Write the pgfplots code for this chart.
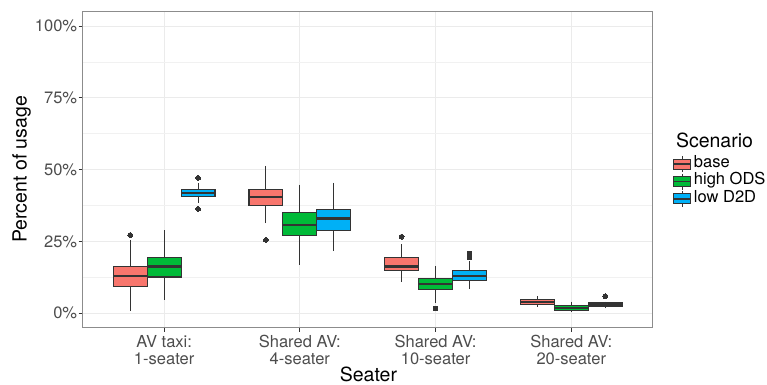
\documentclass[border=0pt]{standalone}
\usepackage{pgfplots}
\pgfplotsset{compat=1.18}
\usepgfplotslibrary{statistics}
\usepackage{fontspec}
\setmainfont{TeX Gyre Heros}
\definecolor{cbase}{HTML}{F8766D}
\definecolor{chigh}{HTML}{00BA38}
\definecolor{clow}{HTML}{00B0F6}
\definecolor{gline}{HTML}{333333}
\definecolor{gtick}{HTML}{4D4D4D}
\definecolor{gborder}{HTML}{8C8C8C}
\definecolor{ggrid}{HTML}{EBEBEB}
\pgfplotsset{
  mybox/.style={forget plot, draw=gline, line width=1.1bp,
    mark=*, mark size=2.4bp,
    mark options={draw=gline, fill=gline, line width=0pt, solid},
    boxplot/draw direction=y,
    boxplot/every median/.style={line width=2.4bp}},
}
\newcommand{\tickfont}{\fontsize{16.5bp}{17bp}\selectfont}
\newcommand{\titlefont}{\fontsize{19.5bp}{20bp}\selectfont}
\begin{document}
\begin{tikzpicture}
\useasboundingbox (0,0) rectangle (767bp,385bp);
\begin{axis}[
  at={(82.7bp,57.5bp)}, anchor=south west,
  width=570bp, height=315.8bp, scale only axis,
  xmin=0.4, xmax=4.6, ymin=-5, ymax=105,
  xtick={1,2,3,4},
  xticklabels={{AV taxi:\\1-seater},{Shared AV:\\4-seater},{Shared AV:\\10-seater},{Shared AV:\\20-seater}},
  ytick={0,25,50,75,100},
  yticklabels={0\%,25\%,50\%,75\%,100\%},
  minor ytick={12.5,37.5,62.5,87.5},
  grid=both,
  major grid style={draw=ggrid, line width=1.1bp},
  minor grid style={draw=ggrid!70!white, line width=0.6bp},
  minor tick length=0pt,
  major tick length=4bp,
  tick align=outside,
  tick style={draw=gline, line width=1.1bp},
  axis line style={draw=gborder, line width=1.1bp},
  xtick pos=bottom, ytick pos=left,
  xticklabel style={font=\tickfont, text=gtick, align=center, inner sep=3.5bp},
  yticklabel style={font=\tickfont, text=gtick, inner sep=1.4bp},
  legend style={at={(rel axis cs:1.035,0.545)}, anchor=north west,
    draw=none, fill=none, font=\tickfont, inner sep=0pt, row sep=0pt,
    nodes={inner xsep=2.5bp, inner ysep=0pt, text height=12bp, text depth=5.3bp}},
  legend cell align=left,
]
% AV taxi: 1-seater
\addplot[mybox, fill=cbase, boxplot prepared={draw position=0.75, box extend=0.25, whisker extend=0,
  lower whisker=0.8, lower quartile=9.4, median=13.0, upper quartile=16.1, upper whisker=25.4}]
  table[row sep=\\, y index=0]{y\\27.2\\};
\addplot[mybox, fill=chigh, boxplot prepared={draw position=1, box extend=0.25, whisker extend=0,
  lower whisker=4.6, lower quartile=12.6, median=16.2, upper quartile=19.3, upper whisker=28.9}]
  coordinates {};
\addplot[mybox, fill=clow, boxplot prepared={draw position=1.25, box extend=0.25, whisker extend=0,
  lower whisker=38.4, lower quartile=40.7, median=41.9, upper quartile=43.2, upper whisker=45.4}]
  table[row sep=\\, y index=0]{y\\47.1\\36.3\\};
% Shared AV: 4-seater
\addplot[mybox, fill=cbase, boxplot prepared={draw position=1.75, box extend=0.25, whisker extend=0,
  lower whisker=31.3, lower quartile=37.5, median=40.5, upper quartile=43.1, upper whisker=51.4}]
  table[row sep=\\, y index=0]{y\\25.5\\};
\addplot[mybox, fill=chigh, boxplot prepared={draw position=2, box extend=0.25, whisker extend=0,
  lower whisker=16.8, lower quartile=27.0, median=30.7, upper quartile=34.9, upper whisker=44.8}]
  coordinates {};
\addplot[mybox, fill=clow, boxplot prepared={draw position=2.25, box extend=0.25, whisker extend=0,
  lower whisker=21.6, lower quartile=28.9, median=32.9, upper quartile=36.1, upper whisker=45.5}]
  coordinates {};
% Shared AV: 10-seater
\addplot[mybox, fill=cbase, boxplot prepared={draw position=2.75, box extend=0.25, whisker extend=0,
  lower whisker=10.8, lower quartile=14.7, median=16.2, upper quartile=19.3, upper whisker=24.0}]
  table[row sep=\\, y index=0]{y\\26.6\\};
\addplot[mybox, fill=chigh, boxplot prepared={draw position=3, box extend=0.25, whisker extend=0,
  lower whisker=3.7, lower quartile=8.1, median=10.1, upper quartile=12.0, upper whisker=16.5}]
  table[row sep=\\, y index=0]{y\\1.6\\};
\addplot[mybox, fill=clow, boxplot prepared={draw position=3.25, box extend=0.25, whisker extend=0,
  lower whisker=8.4, lower quartile=11.3, median=13.0, upper quartile=14.7, upper whisker=18.2}]
  table[row sep=\\, y index=0]{y\\19.4\\20.2\\20.8\\};
% Shared AV: 20-seater
\addplot[mybox, fill=cbase, boxplot prepared={draw position=3.75, box extend=0.25, whisker extend=0,
  lower whisker=2.3, lower quartile=2.9, median=3.8, upper quartile=4.8, upper whisker=5.8}]
  coordinates {};
\addplot[mybox, fill=chigh, boxplot prepared={draw position=4, box extend=0.25, whisker extend=0,
  lower whisker=0.5, lower quartile=1.0, median=1.7, upper quartile=2.6, upper whisker=4.0}]
  coordinates {};
\addplot[mybox, fill=clow, boxplot prepared={draw position=4.25, box extend=0.25, whisker extend=0,
  lower whisker=1.7, lower quartile=2.2, median=3.0, upper quartile=3.6, upper whisker=4.0}]
  table[row sep=\\, y index=0]{y\\5.9\\};
% legend
\addlegendimage{legend image code/.code={
  \draw[draw=gline, line width=0.8bp] (8.5bp,-8bp) -- (8.5bp,8bp);
  \draw[fill=cbase, draw=gline, line width=0.8bp] (0bp,-5bp) rectangle (17bp,5bp);
  \draw[draw=gline, line width=1.6bp] (0bp,0bp) -- (17bp,0bp);}}
\addlegendentry{base}
\addlegendimage{legend image code/.code={
  \draw[draw=gline, line width=0.8bp] (8.5bp,-8bp) -- (8.5bp,8bp);
  \draw[fill=chigh, draw=gline, line width=0.8bp] (0bp,-5bp) rectangle (17bp,5bp);
  \draw[draw=gline, line width=1.6bp] (0bp,0bp) -- (17bp,0bp);}}
\addlegendentry{high ODS}
\addlegendimage{legend image code/.code={
  \draw[draw=gline, line width=0.8bp] (8.5bp,-8bp) -- (8.5bp,8bp);
  \draw[fill=clow, draw=gline, line width=0.8bp] (0bp,-5bp) rectangle (17bp,5bp);
  \draw[draw=gline, line width=1.6bp] (0bp,0bp) -- (17bp,0bp);}}
\addlegendentry{low D2D}
\end{axis}
\node[anchor=base west, font=\titlefont] at (672.5bp,237.5bp) {Scenario};
\node[anchor=base, font=\titlefont] at (368.4bp,4bp) {Seater};
\node[anchor=base, rotate=90, font=\titlefont] at (26.7bp,215.6bp) {Percent of usage};
\end{tikzpicture}
\end{document}
